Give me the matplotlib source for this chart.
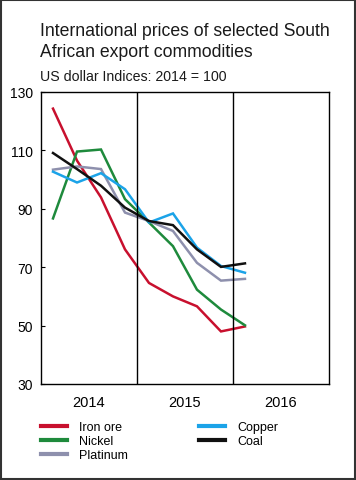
import matplotlib.pyplot as plt
from matplotlib.patches import Rectangle

plt.rcParams['font.family'] = ['Liberation Sans', 'DejaVu Sans']

# quarterly values, 2014Q1 .. 2016Q1
quarters = ['2014Q1', '2014Q2', '2014Q3', '2014Q4', '2015Q1',
            '2015Q2', '2015Q3', '2015Q4', '2016Q1']
iron_ore = [124.3, 106.5, 93.9, 76.1, 64.6, 60.0, 56.6, 48.0, 49.7]
nickel = [86.7, 109.6, 110.3, 93.3, 85.3, 77.2, 62.3, 55.5, 50.1]
platinum = [103.4, 104.5, 103.6, 88.7, 85.8, 82.4, 71.5, 65.4, 66.0]
copper = [102.7, 99.0, 102.2, 96.7, 85.3, 88.4, 76.7, 70.4, 68.1]
coal = [109.1, 103.6, 97.9, 90.4, 85.8, 84.4, 76.1, 70.1, 71.3]

years = ['2014', '2015', '2016']
y_ticks = [30, 50, 70, 90, 110, 130]

series = [
    ('Iron ore', iron_ore, '#c8102e'),
    ('Nickel', nickel, '#1e8a3c'),
    ('Platinum', platinum, '#8e90ad'),
    ('Copper', copper, '#1ba3e8'),
    ('Coal', coal, '#111111'),
]

fig = plt.figure(figsize=(3.56, 4.81), dpi=100)
ax = fig.add_axes([0.1152, 0.1996, 0.8088, 0.6071])

x = [i + 0.5 for i in range(len(quarters))]
handles = []
for name, vals, color in series:
    h, = ax.plot(x, vals, color=color, lw=1.8, label=name, solid_joinstyle='miter')
    handles.append(h)

for b in range(1, len(years)):
    ax.axvline(4 * b, color='black', lw=1.0)

ax.set_xlim(0, 4 * len(years))
ax.set_ylim(30, 130)
ax.set_yticks(y_ticks)
ax.set_xticks([4 * i + 2 for i in range(len(years))])
ax.set_xticklabels(years)
ax.tick_params(axis='x', length=0, pad=8, labelsize=10.5)
ax.tick_params(axis='y', direction='in', length=3, width=0.8, pad=6, labelsize=10)
for sp in ax.spines.values():
    sp.set_linewidth(1.0)

fig.text(0.112, 0.953, 'International prices of selected South\nAfrican export commodities',
         fontsize=12.7, va='top', ha='left', linespacing=1.33, color='#1a1a1a')
fig.text(0.112, 0.84, 'US dollar Indices: 2014 = 100', fontsize=10.2,
         va='center', ha='left', color='#1a1a1a')

fig.legend(handles=handles, ncol=2, loc='upper left', bbox_to_anchor=(0.115, 0.122),
           frameon=False, fontsize=9, handlelength=2.1, handletextpad=0.95,
           labelspacing=0.15, columnspacing=5.7, borderaxespad=0, borderpad=0)
for h in fig.legends[0].get_lines():
    h.set_linewidth(3)

fig.add_artist(Rectangle((0.002, 0.002), 0.996, 0.996, transform=fig.transFigure,
                         fill=False, edgecolor='#333333', lw=1.5))

plt.savefig('out.png', dpi=100)
